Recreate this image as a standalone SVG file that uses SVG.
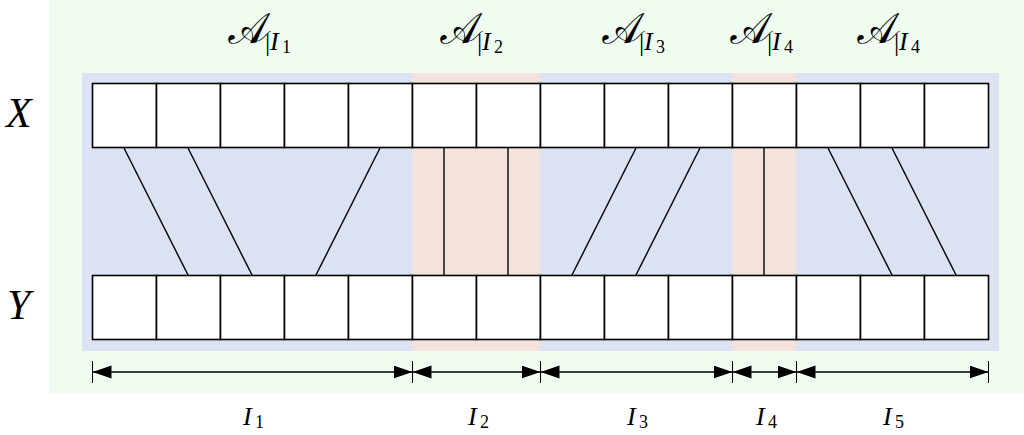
<svg xmlns="http://www.w3.org/2000/svg" width="1024" height="435" viewBox="0 0 1024 435">
<style>
.cell{fill:#ffffff;stroke:#000;stroke-width:1.6}
.con{stroke:#000;stroke-width:1.4;fill:none}
.tick{stroke:#000;stroke-width:1}
.arr{stroke:#000;stroke-width:1.4;fill:none;marker-start:url(#ah);marker-end:url(#ah)}
.it{font-family:"Liberation Serif","DejaVu Serif",serif;font-style:italic;fill:#000}
.up{font-family:"Liberation Serif","DejaVu Serif",serif;font-style:normal;fill:#000}
.cal{font-family:"DejaVu Sans","Noto Sans Math","DejaVu Serif",serif;fill:#000}
</style>
<defs>
<marker id="ah" markerUnits="userSpaceOnUse" markerWidth="20" markerHeight="14" refX="19" refY="6.5" orient="auto-start-reverse">
<path d="M0,0 L19,6.5 L0,13 Z" fill="#000"/>
</marker>
</defs>
<g id="background">
<rect x="49" y="0" width="975" height="393" fill="#f1fcf1"/>
<rect x="82" y="73" width="917" height="278" fill="#dce2f4"/>
<rect x="412" y="73" width="128" height="278" fill="#f4e3dc"/>
<rect x="732" y="73" width="64" height="278" fill="#f4e3dc"/>
</g>
<g id="connectors">
<line class="con" x1="124" y1="148" x2="188" y2="275"/>
<line class="con" x1="188" y1="148" x2="252" y2="275"/>
<line class="con" x1="380" y1="148" x2="316" y2="275"/>
<line class="con" x1="444" y1="148" x2="444" y2="275"/>
<line class="con" x1="508" y1="148" x2="508" y2="275"/>
<line class="con" x1="636" y1="148" x2="572" y2="275"/>
<line class="con" x1="700" y1="148" x2="636" y2="275"/>
<line class="con" x1="764" y1="148" x2="764" y2="275"/>
<line class="con" x1="828" y1="148" x2="892" y2="275"/>
<line class="con" x1="892" y1="148" x2="956" y2="275"/>
</g>
<g id="row-X">
<rect class="cell" x="92.5" y="83.5" width="64" height="64"/>
<rect class="cell" x="156.5" y="83.5" width="64" height="64"/>
<rect class="cell" x="220.5" y="83.5" width="64" height="64"/>
<rect class="cell" x="284.5" y="83.5" width="64" height="64"/>
<rect class="cell" x="348.5" y="83.5" width="64" height="64"/>
<rect class="cell" x="412.5" y="83.5" width="64" height="64"/>
<rect class="cell" x="476.5" y="83.5" width="64" height="64"/>
<rect class="cell" x="540.5" y="83.5" width="64" height="64"/>
<rect class="cell" x="604.5" y="83.5" width="64" height="64"/>
<rect class="cell" x="668.5" y="83.5" width="64" height="64"/>
<rect class="cell" x="732.5" y="83.5" width="64" height="64"/>
<rect class="cell" x="796.5" y="83.5" width="64" height="64"/>
<rect class="cell" x="860.5" y="83.5" width="64" height="64"/>
<rect class="cell" x="924.5" y="83.5" width="64" height="64"/>
</g>
<g id="row-Y">
<rect class="cell" x="92.5" y="275.5" width="64" height="64"/>
<rect class="cell" x="156.5" y="275.5" width="64" height="64"/>
<rect class="cell" x="220.5" y="275.5" width="64" height="64"/>
<rect class="cell" x="284.5" y="275.5" width="64" height="64"/>
<rect class="cell" x="348.5" y="275.5" width="64" height="64"/>
<rect class="cell" x="412.5" y="275.5" width="64" height="64"/>
<rect class="cell" x="476.5" y="275.5" width="64" height="64"/>
<rect class="cell" x="540.5" y="275.5" width="64" height="64"/>
<rect class="cell" x="604.5" y="275.5" width="64" height="64"/>
<rect class="cell" x="668.5" y="275.5" width="64" height="64"/>
<rect class="cell" x="732.5" y="275.5" width="64" height="64"/>
<rect class="cell" x="796.5" y="275.5" width="64" height="64"/>
<rect class="cell" x="860.5" y="275.5" width="64" height="64"/>
<rect class="cell" x="924.5" y="275.5" width="64" height="64"/>
</g>
<g id="intervals">
<line class="tick" x1="92.5" y1="361" x2="92.5" y2="383"/>
<line class="tick" x1="412.5" y1="361" x2="412.5" y2="383"/>
<line class="tick" x1="540.5" y1="361" x2="540.5" y2="383"/>
<line class="tick" x1="732.5" y1="361" x2="732.5" y2="383"/>
<line class="tick" x1="796.5" y1="361" x2="796.5" y2="383"/>
<line class="tick" x1="988.5" y1="361" x2="988.5" y2="383"/>
<line class="arr" x1="92.5" y1="372" x2="412.5" y2="372"/>
<line class="arr" x1="412.5" y1="372" x2="540.5" y2="372"/>
<line class="arr" x1="540.5" y1="372" x2="732.5" y2="372"/>
<line class="arr" x1="732.5" y1="372" x2="796.5" y2="372"/>
<line class="arr" x1="796.5" y1="372" x2="988.5" y2="372"/>
</g>
<g id="row-labels">
<text class="it" x="6" y="127" font-size="42">X</text>
<text class="it" x="7" y="319" font-size="42">Y</text>
</g>
<g id="top-labels">
<text class="cal" font-size="41"><tspan x="229" y="43">𝒜</tspan><tspan class="up" x="265" y="51" font-size="26">|</tspan><tspan class="it" x="270" y="50" font-size="26">I</tspan><tspan class="up" x="282" y="53" font-size="18">1</tspan></text>
<text class="cal" font-size="41"><tspan x="441" y="43">𝒜</tspan><tspan class="up" x="477" y="51" font-size="26">|</tspan><tspan class="it" x="482" y="50" font-size="26">I</tspan><tspan class="up" x="494" y="53" font-size="18">2</tspan></text>
<text class="cal" font-size="41"><tspan x="603" y="43">𝒜</tspan><tspan class="up" x="639" y="51" font-size="26">|</tspan><tspan class="it" x="644" y="50" font-size="26">I</tspan><tspan class="up" x="656" y="53" font-size="18">3</tspan></text>
<text class="cal" font-size="41"><tspan x="731" y="43">𝒜</tspan><tspan class="up" x="767" y="51" font-size="26">|</tspan><tspan class="it" x="772" y="50" font-size="26">I</tspan><tspan class="up" x="784" y="53" font-size="18">4</tspan></text>
<text class="cal" font-size="41"><tspan x="858" y="43">𝒜</tspan><tspan class="up" x="894" y="51" font-size="26">|</tspan><tspan class="it" x="899" y="50" font-size="26">I</tspan><tspan class="up" x="911" y="53" font-size="18">4</tspan></text>
</g>
<g id="interval-labels">
<text class="it" font-size="26"><tspan x="243" y="425">I</tspan><tspan class="up" x="255" y="428" font-size="18">1</tspan></text>
<text class="it" font-size="26"><tspan x="468" y="425">I</tspan><tspan class="up" x="480" y="428" font-size="18">2</tspan></text>
<text class="it" font-size="26"><tspan x="627" y="425">I</tspan><tspan class="up" x="639" y="428" font-size="18">3</tspan></text>
<text class="it" font-size="26"><tspan x="756" y="425">I</tspan><tspan class="up" x="768" y="428" font-size="18">4</tspan></text>
<text class="it" font-size="26"><tspan x="883" y="425">I</tspan><tspan class="up" x="895" y="428" font-size="18">5</tspan></text>
</g>
</svg>
